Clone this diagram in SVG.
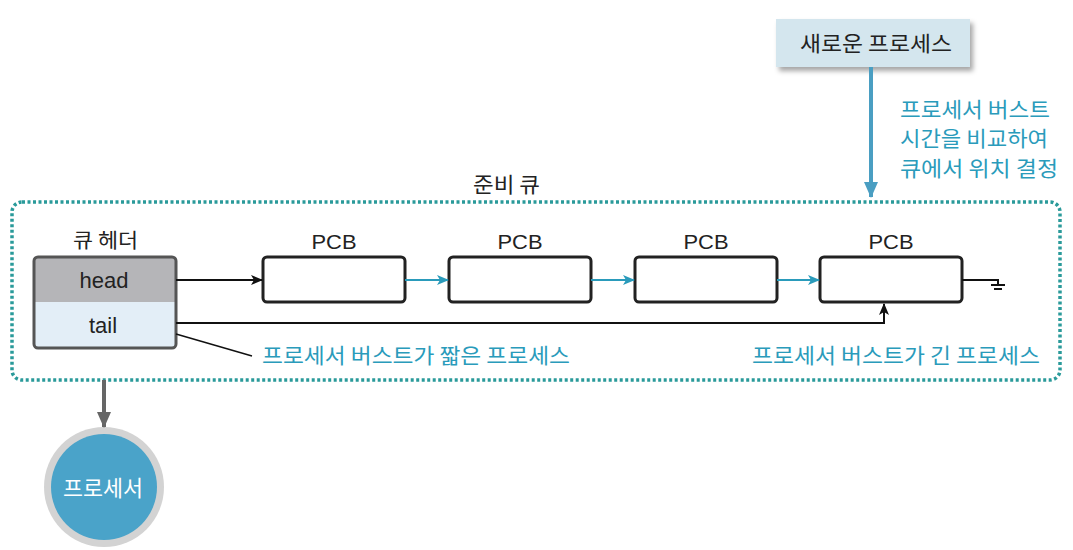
<svg xmlns="http://www.w3.org/2000/svg" width="1073" height="550" viewBox="0 0 1073 550">
<defs>
<style>
.t{font-family:"Noto Sans CJK KR","Liberation Sans",sans-serif;fill:#222}
.l{font-family:"Liberation Sans","Noto Sans CJK KR",sans-serif;fill:#222}
.b{font-family:"Noto Sans CJK KR","Liberation Sans",sans-serif;fill:#2a9bbb;font-size:21px}
.pcb{fill:#fff;stroke:#222;stroke-width:3}
.blk{stroke:#111;stroke-width:2;fill:none}
.blu{stroke:#2a9bbb;stroke-width:2;fill:none}
</style>
<marker id="ab" markerWidth="12" markerHeight="10" refX="11" refY="5" orient="auto" markerUnits="userSpaceOnUse"><path d="M0,0 L12,5 L0,10 L3,5 z" fill="#111"/></marker>
<marker id="au" markerWidth="12" markerHeight="10" refX="11" refY="5" orient="auto" markerUnits="userSpaceOnUse"><path d="M0,0 L12,5 L0,10 L3,5 z" fill="#2a9bbb"/></marker>
<marker id="ag" markerWidth="16" markerHeight="14" refX="15" refY="7" orient="auto" markerUnits="userSpaceOnUse"><path d="M0,0 L16,7 L0,14 z" fill="#666"/></marker>
<marker id="anp" markerWidth="16" markerHeight="14" refX="15" refY="7" orient="auto" markerUnits="userSpaceOnUse"><path d="M0,0 L16,7 L0,14 z" fill="#4a9ec2"/></marker>
<filter id="sh" x="-10%" y="-10%" width="130%" height="140%"><feDropShadow dx="3" dy="4" stdDeviation="2.5" flood-color="#000" flood-opacity="0.35"/></filter>
</defs>
<rect width="1073" height="550" fill="#fff"/>

<g id="ready-queue">
<rect x="12" y="202" width="1048" height="178" rx="10" fill="none" stroke="#2a9a9a" stroke-width="3.5" stroke-dasharray="3 2.5"/>
<text class="t" x="473" y="192" font-size="21" textLength="67" lengthAdjust="spacingAndGlyphs">준비 큐</text>
</g>

<g id="new-process">
<rect x="776" y="19" width="194" height="48" fill="#d4e6ee" filter="url(#sh)"/>
<text class="t" x="800" y="51" font-size="21" textLength="152" lengthAdjust="spacingAndGlyphs">새로운 프로세스</text>
</g>

<g id="queue-header">
<text class="t" x="73" y="248" font-size="20" textLength="65" lengthAdjust="spacingAndGlyphs">큐 헤더</text>
<rect x="34" y="257" width="142" height="91" rx="4" fill="#e3eef7"/>
<path d="M38,257 H172 Q176,257 176,261 V302 H34 V261 Q34,257 38,257 z" fill="#b5b5b8"/>
<rect x="34" y="257" width="142" height="91" rx="4" fill="none" stroke="#555" stroke-width="3"/>
<text class="l" x="104" y="288" font-size="22" text-anchor="middle">head</text>
<text class="l" x="103" y="333" font-size="22" text-anchor="middle">tail</text>
</g>

<g id="pcb1"><text class="l" x="334" y="249" font-size="21" text-anchor="middle" textLength="45" lengthAdjust="spacingAndGlyphs">PCB</text><rect class="pcb" x="263" y="257" width="142" height="45" rx="4"/></g>
<g id="pcb2"><text class="l" x="520" y="249" font-size="21" text-anchor="middle" textLength="45" lengthAdjust="spacingAndGlyphs">PCB</text><rect class="pcb" x="449" y="257" width="142" height="45" rx="4"/></g>
<g id="pcb3"><text class="l" x="706" y="249" font-size="21" text-anchor="middle" textLength="45" lengthAdjust="spacingAndGlyphs">PCB</text><rect class="pcb" x="635" y="257" width="142" height="45" rx="4"/></g>
<g id="pcb4"><text class="l" x="891" y="249" font-size="21" text-anchor="middle" textLength="45" lengthAdjust="spacingAndGlyphs">PCB</text><rect class="pcb" x="820" y="257" width="142" height="45" rx="4"/></g>

<g id="processor">
<circle cx="104" cy="487" r="60" fill="#d3d3d3"/>
<circle cx="104" cy="487" r="53" fill="#4aa3c9"/>
<text x="63" y="496" font-size="22" fill="#fff" font-family="Noto Sans CJK KR,sans-serif" textLength="80" lengthAdjust="spacingAndGlyphs">프로세서</text>
</g>

<g id="labels">
<text class="b" x="900" y="117" textLength="150" lengthAdjust="spacingAndGlyphs">프로세서 버스트</text>
<text class="b" x="900" y="146" textLength="148" lengthAdjust="spacingAndGlyphs">시간을 비교하여</text>
<text class="b" x="900" y="176" textLength="158" lengthAdjust="spacingAndGlyphs">큐에서 위치 결정</text>
<text class="b" x="262" y="363" textLength="308" lengthAdjust="spacingAndGlyphs">프로세서 버스트가 짧은 프로세스</text>
<text class="b" x="752" y="363" textLength="288" lengthAdjust="spacingAndGlyphs">프로세서 버스트가 긴 프로세스</text>
</g>

<g id="connectors">
<line x1="871" y1="67" x2="871" y2="197" stroke="#4a9ec2" stroke-width="4" marker-end="url(#anp)"/>
<line class="blk" x1="176" y1="280" x2="262" y2="280" marker-end="url(#ab)"/>
<line class="blu" x1="405" y1="280" x2="448" y2="280" marker-end="url(#au)"/>
<line class="blu" x1="591" y1="280" x2="634" y2="280" marker-end="url(#au)"/>
<line class="blu" x1="777" y1="280" x2="819" y2="280" marker-end="url(#au)"/>
<path class="blk" d="M962,280 H998 V284"/>
<path class="blk" d="M991,285 H1005 M994,289 H1002" stroke-width="1.6"/>
<path class="blk" d="M176,323 H884 V304" marker-end="url(#ab)"/>
<line x1="176" y1="334" x2="252" y2="356" stroke="#111" stroke-width="1.5"/>
<line x1="104" y1="380" x2="104" y2="427" stroke="#666" stroke-width="4" marker-end="url(#ag)"/>
</g>
</svg>
